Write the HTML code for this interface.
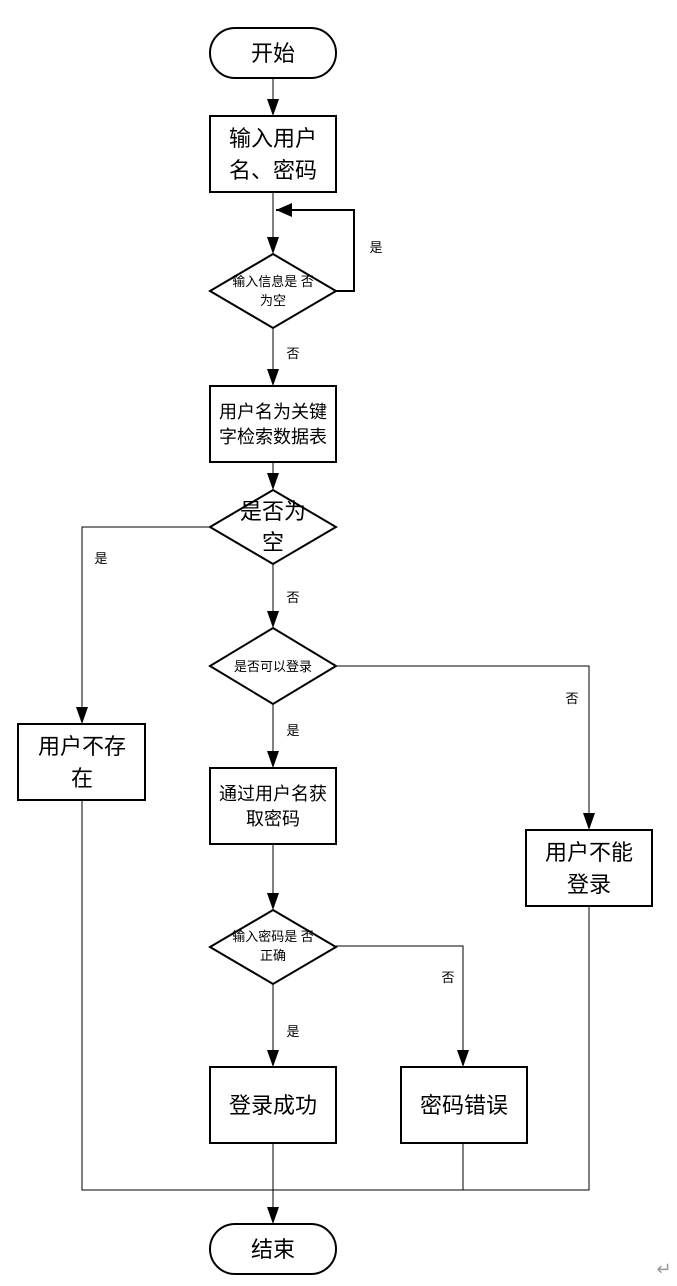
<!DOCTYPE html>
<html><head><meta charset="utf-8"><style>
html,body{margin:0;padding:0;background:#fff;}
svg{display:block;}
text{font-family:"Liberation Sans","Noto Sans CJK SC",sans-serif;fill:#000;}
</style></head><body>
<svg width="677" height="1286" viewBox="0 0 677 1286" xmlns="http://www.w3.org/2000/svg">
<defs>
<marker id="a" markerWidth="12" markerHeight="16" refX="6" refY="16" orient="auto-start-reverse" markerUnits="userSpaceOnUse" viewBox="0 0 12 16">
<path d="M0,0 L12,0 L6,16 Z" fill="#000"/></marker>
<marker id="l" markerWidth="16" markerHeight="14" refX="0" refY="7" markerUnits="userSpaceOnUse" viewBox="0 0 16 14">
<path d="M16,0 L16,14 L0,7 Z" fill="#000"/></marker>
</defs>
<g stroke="#000" stroke-width="1" fill="none">
<!-- connectors -->
<line x1="273" y1="78" x2="273" y2="116"/>
<path d="M273,100 l-6,0" stroke="none"/>
<line x1="273" y1="192" x2="273" y2="254"/>
<polyline points="336,291 354,291 354,210 276,210" stroke-width="2"/>
<line x1="273" y1="328" x2="273" y2="386"/>
<line x1="273" y1="462" x2="273" y2="490"/>
<polyline points="210,527 82,527 82,724"/>
<line x1="273" y1="564" x2="273" y2="628"/>
<polyline points="336,666 589,666 589,830"/>
<line x1="273" y1="704" x2="273" y2="768"/>
<line x1="273" y1="844" x2="273" y2="910"/>
<polyline points="336,946 463,946 463,1067"/>
<line x1="273" y1="984" x2="273" y2="1067"/>
<polyline points="82,800 82,1190 589,1190 589,906"/>
<line x1="463" y1="1143" x2="463" y2="1190"/>
<line x1="273" y1="1143" x2="273" y2="1224"/>
</g>
<g fill="#000">
<path d="M267,99 L279,99 L273,116 Z"/>
<path d="M267,237 L279,237 L273,254 Z"/>
<path d="M276,210 L292,203 L292,217 Z"/>
<path d="M267,369 L279,369 L273,386 Z"/>
<path d="M267,473 L279,473 L273,490 Z"/>
<path d="M76,707 L88,707 L82,724 Z"/>
<path d="M267,611 L279,611 L273,628 Z"/>
<path d="M583,813 L595,813 L589,830 Z"/>
<path d="M267,751 L279,751 L273,768 Z"/>
<path d="M267,893 L279,893 L273,910 Z"/>
<path d="M457,1050 L469,1050 L463,1067 Z"/>
<path d="M267,1050 L279,1050 L273,1067 Z"/>
<path d="M267,1207 L279,1207 L273,1224 Z"/>
</g>
<g stroke="#000" stroke-width="2" fill="#fff">
<rect x="210" y="28" width="126" height="50" rx="25"/>
<rect x="210" y="116" width="126" height="76"/>
<polygon points="273,254 336,291 273,328 210,291"/>
<rect x="210" y="386" width="126" height="76"/>
<polygon points="273,490 336,527 273,564 210,527"/>
<polygon points="273,628 336,666 273,704 210,666"/>
<rect x="18" y="724" width="127" height="76"/>
<rect x="526" y="830" width="126" height="76"/>
<rect x="210" y="768" width="126" height="76"/>
<polygon points="273,910 336,947 273,984 210,947"/>
<rect x="210" y="1067" width="126" height="76"/>
<rect x="401" y="1067" width="126" height="76"/>
<rect x="210" y="1224" width="126" height="50" rx="25"/>
</g>
<g text-anchor="middle">
<text x="273" y="61" font-size="22">开始</text>
<text x="273" y="146" font-size="22">输入用户</text>
<text x="273" y="178" font-size="22">名、密码</text>
<text x="273" y="286" font-size="13">输入信息是 否</text>
<text x="273" y="305" font-size="13">为空</text>
<text x="376" y="252" font-size="13">是</text>
<text x="293" y="358" font-size="13">否</text>
<text x="273" y="418" font-size="18">用户名为关键</text>
<text x="273" y="443" font-size="18">字检索数据表</text>
<text x="273" y="519" font-size="22">是否为</text>
<text x="273" y="550" font-size="22">空</text>
<text x="101" y="563" font-size="13">是</text>
<text x="293" y="602" font-size="13">否</text>
<text x="273" y="671" font-size="13">是否可以登录</text>
<text x="572" y="703" font-size="13">否</text>
<text x="293" y="735" font-size="13">是</text>
<text x="82" y="754" font-size="22">用户不存</text>
<text x="82" y="786" font-size="22">在</text>
<text x="273" y="800" font-size="18">通过用户名获</text>
<text x="273" y="825" font-size="18">取密码</text>
<text x="589" y="860" font-size="22">用户不能</text>
<text x="589" y="892" font-size="22">登录</text>
<text x="273" y="941" font-size="13">输入密码是 否</text>
<text x="273" y="960" font-size="13">正确</text>
<text x="448" y="982" font-size="13">否</text>
<text x="293" y="1036" font-size="13">是</text>
<text x="273" y="1113" font-size="22">登录成功</text>
<text x="464" y="1113" font-size="22">密码错误</text>
<text x="273" y="1257" font-size="22">结束</text>
<text x="664" y="1275" font-size="18" style="fill:#999">↵</text>
</g>
</svg>
</body></html>
